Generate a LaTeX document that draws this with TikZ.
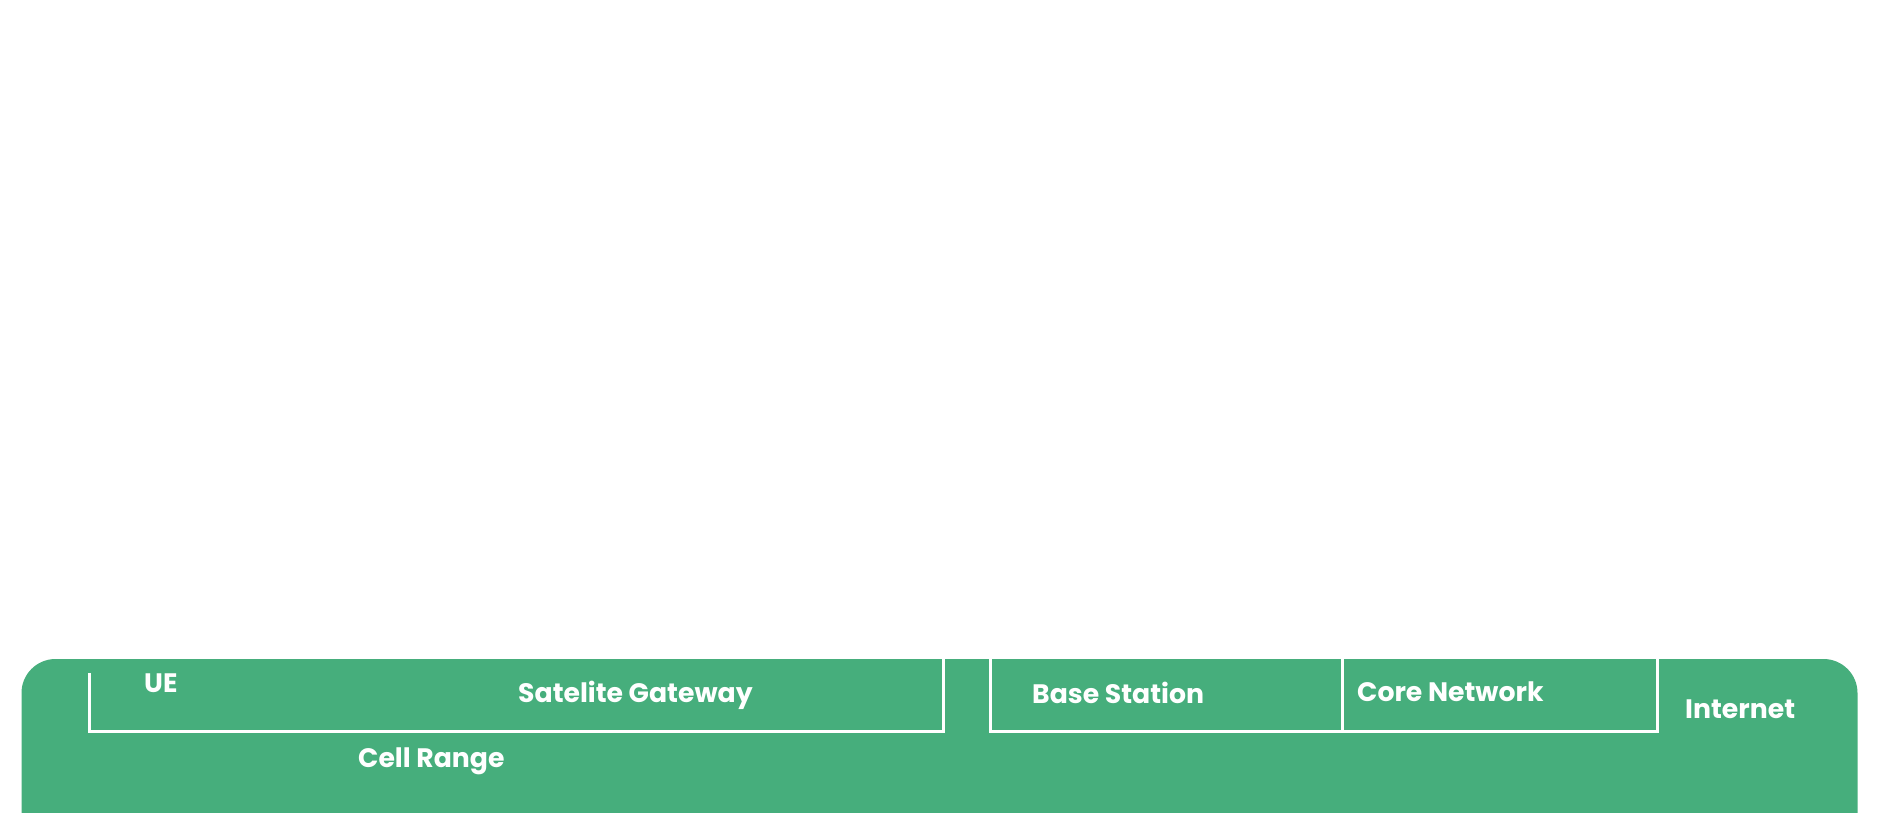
\documentclass[tikz,border=0pt]{standalone}
\usepackage{fontspec}
\setmainfont{Poppins}
\definecolor{bandgreen}{RGB}{70,174,124}
\tikzset{
  lbl/.style={anchor=base west, inner sep=0pt, text=white, font=\bfseries\fontsize{26.7}{30}\selectfont},
  wline/.style={draw=white, line width=3pt, line cap=rect}
}
\begin{document}
\begin{tikzpicture}[x=1pt,y=-1pt]
\useasboundingbox (0,0) rectangle (1882,812);
\fill[white] (0,0) rectangle (1882,812);
\begin{scope}
\clip (0,0) rectangle (1882,812);
\fill[bandgreen, rounded corners=34pt] (21.5,659) rectangle (1857.5,900);
\end{scope}
% bracket coordinates
\coordinate (a1) at (89,674);
\coordinate (a2) at (89,731);
\coordinate (a3) at (943,731);
\coordinate (a4) at (943,659);
\coordinate (b1) at (990,659);
\coordinate (b2) at (990,731);
\coordinate (b3) at (1657,731);
\coordinate (b4) at (1657,659);
\coordinate (c1) at (1342,659);
\coordinate (c2) at (1342,731);
\draw[wline] (a1) -- (a2) -- (a3) -- (a4);
\draw[wline] (b1) -- (b2) -- (b3) -- (b4);
\draw[wline] (c1) -- (c2);
% labels
\node[lbl] (ue) at (144,692) {UE};
\node[lbl] (sg) at (518,702) {Satelite Gateway};
\node[lbl] (cr) at (358,767) {Cell Range};
\node[lbl] (bs) at (1032,703) {Base Station};
\node[lbl] (cn) at (1357,701) {Core Network};
\node[lbl] (in) at (1685,718) {Internet};
\end{tikzpicture}
\end{document}
